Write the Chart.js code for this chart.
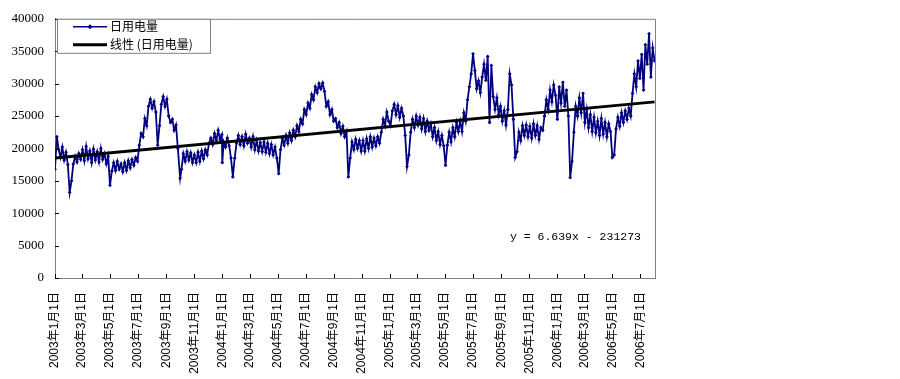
<!DOCTYPE html>
<html><head><meta charset="utf-8">
<script src="https://cdn.jsdelivr.net/npm/chart.js@4.4.1/dist/chart.umd.min.js"></script>
<style>html,body{margin:0;padding:0;background:#fff;}canvas{display:block;}</style>
</head><body>
<canvas id="c" width="900" height="379"></canvas>
<script>
// Series: [day offset from 2003-01-01, daily electricity]
const load2003 = [[0,16800],[4,21800],[8,19800],[12,18600],[16,20200],[20,18200],[24,19400],[28,17500],
[32,13200],[36,15000],[40,17600],[44,18800],[48,17900],[52,19200],[56,18300],
[60,19800],[64,18100],[68,20300],[72,18400],[76,19600],[80,17800],[84,19900],[88,18200],
[92,19500],[96,17900],[100,20000],[104,18300],[108,19200],[112,17600],[116,18800],
[120,14300],[124,16500],[128,17800],[132,16600],[136,18000],[140,16800],[144,17600],[148,16400],
[152,17800],[156,16600],[160,18100],[164,17000],[168,18300],[172,17400],[176,18600],[180,18000],
[184,20500],[188,22300],[192,21800],[196,24600],[200,23500],[204,26500],[208,27600],
[212,26200],[216,27200],[220,25600],[224,20500],[228,23500],[232,26800],[236,28000],[240,26500],
[244,27600],[248,25000],[252,24000],[256,24500],[260,22800],[264,23600],[268,20000],
[273,15400],[276,16800],[280,19200],[284,18000],[288,19500],[292,18200],[296,19300],[300,17800],
[304,19000],[308,17800],[312,19400],[316,18000],[320,19600],[324,18400],[328,19800],[332,19000],
[336,20800],[340,21600],[344,20600],[348,22300],[352,21200],[356,22800],[360,21400],[364,22100]];
const load2004 = [[365,17800],[368,21000],[372,20200],[376,21600],[380,20400],[384,18500],[388,15600],[392,18500],
[396,20800],[400,22000],[404,20600],[408,21800],[412,20400],[416,22200],[420,20800],[424,21600],
[428,20200],[432,21800],[436,19800],[440,21200],[444,19600],[448,20900],[452,19500],
[456,21000],[460,19400],[464,20800],[468,19200],[472,20600],[476,19000],[480,20200],[484,18500],
[488,16100],[492,19800],[496,21500],[500,20500],[504,22000],[508,20800],[512,22400],[516,21200],
[520,22800],[524,21800],[528,23500],[532,22600],[536,24500],[540,23800],[544,26000],
[548,25200],[552,27000],[556,26200],[560,28300],[564,27500],[568,29500],[572,28600],[576,30000],
[580,29200],[584,30100],[588,28800],[592,26500],[596,27200],[600,25200],[604,26000],[608,24200],
[612,24600],[616,23200],[620,24000],[624,22300],[628,23400],[632,21800],[636,22600],
[640,15600],[644,18500],[648,21000],[652,19800],[656,21400],[660,20000],[664,21200],[668,19600],
[672,21200],[676,19600],[680,21500],[684,20000],[688,21800],[692,20200],[696,21600],
[700,20400],[704,21800],[708,20800],[712,22500],[716,24500],[720,23500],[724,25600],[728,24200]];
const load2005 = [[732,23500],[736,25800],[740,26800],[744,25200],[748,26600],[752,24800],[756,26200],[760,25000],
[764,22000],[768,17200],[772,19000],[776,22500],[780,24500],[784,23200],[788,25000],
[792,23600],[796,24800],[800,23000],[804,24600],[808,22600],[812,24200],[816,22800],[820,23800],
[824,21800],[828,23200],[832,21200],[836,22600],[840,20600],[844,22000],[848,20400],
[852,17400],[856,20500],[860,22500],[864,21000],[868,23200],[872,21800],[876,24000],[880,22600],
[884,24200],[888,22600],[892,25500],[896,24200],[900,27500],[904,29500],[908,31500],
[912,34600],[916,32000],[920,29200],[924,30400],[928,28600],[932,31000],[936,33000],[940,30500],
[944,34200],[948,24000],[952,32800],[956,28000],[960,26000],[964,27800],[968,25200],[972,26500],
[976,24200],[980,25800],[984,23600],[988,26000],[992,31500],[996,29800],[1000,24500],
[1004,18600],[1008,19500],[1012,22500],[1016,21200],[1020,23500],[1024,22000],[1028,23600],[1032,21800],
[1036,23400],[1040,21600],[1044,23800],[1048,22000],[1052,23500],[1056,21400],[1060,23200],[1064,22800],
[1068,25000],[1072,27500],[1076,26000],[1080,29000],[1084,27200],[1088,29800],[1092,28200]];
const load2006 = [[1096,24500],[1100,29500],[1104,27000],[1108,30200],[1112,26500],[1116,29000],[1120,25000],[1124,15500],
[1128,18000],[1132,22500],[1136,26500],[1140,25000],[1144,27800],[1148,25500],[1152,28500],
[1156,24000],[1160,26000],[1164,23200],[1168,25200],[1172,22600],[1176,24800],[1180,22400],[1184,24200],
[1188,22000],[1192,24600],[1196,22200],[1200,24000],[1204,21800],[1208,23800],[1212,22600],
[1216,18600],[1220,19000],[1224,23000],[1228,24800],[1232,23400],[1236,25500],[1240,24000],[1244,25800],
[1248,24500],[1252,26200],[1256,25000],[1260,28500],[1264,31500],[1268,29500],[1272,33500],[1276,30800],
[1280,34500],[1284,29000],[1288,36000],[1292,33000],[1296,37700],[1300,31000],[1304,35500],[1308,33500]];

// Linear trend endpoints (y = 6.639x - 231273)
const trendDays = [0, 1308];
const trendValues = [18500, 27180];

const tickLabels = ['2003年1月1日','2003年3月1日','2003年5月1日','2003年7月1日','2003年9月1日','2003年11月1日',
'2004年1月1日','2004年3月1日','2004年5月1日','2004年7月1日','2004年9月1日','2004年11月1日',
'2005年1月1日','2005年3月1日','2005年5月1日','2005年7月1日','2005年9月1日','2005年11月1日',
'2006年1月1日','2006年3月1日','2006年5月1日','2006年7月1日'];
const yTicks = [0,5000,10000,15000,20000,25000,30000,35000,40000];

const seriesName = '日用电量';
const trendName = '线性 (日用电量)';
const equationText = 'y = 6.639x - 231273';

const base = Date.UTC(2003,0,1);
function labelToDay(s){const m=s.match(/(\d+)年(\d+)月(\d+)日/);return Math.round((Date.UTC(+m[1],+m[2]-1,+m[3])-base)/86400000);}
const tickDays = tickLabels.map(labelToDay);
const dayToLabel = {}; tickDays.forEach((d,i)=>dayToLabel[d]=tickLabels[i]);

const series = [].concat(load2003, load2004, load2005, load2006).map(p=>({x:p[0],y:p[1]}));
const trend = trendDays.map((d,i)=>({x:d,y:trendValues[i]}));

const NAVY = '#000080';
const GRAY = '#808080';

const decor = {
  id:'decor',
  afterDatasetsDraw(chart){
    const ctx = chart.ctx, a = chart.chartArea;
    const xs = chart.scales.x, ys = chart.scales.y;
    ctx.save();
    ctx.strokeStyle = GRAY; ctx.lineWidth = 1;
    ctx.beginPath();
    ctx.moveTo(a.left, a.top+0.5); ctx.lineTo(a.right+0.5, a.top+0.5); ctx.lineTo(a.right+0.5, a.bottom);
    ctx.stroke();
    ctx.strokeStyle = '#000';
    ctx.beginPath();
    yTicks.forEach(v=>{const y=Math.round(ys.getPixelForValue(v))+0.5; ctx.moveTo(a.left, y); ctx.lineTo(a.left+4, y);});
    tickDays.forEach(d=>{const x=Math.round(xs.getPixelForValue(d))+0.5; ctx.moveTo(x, a.bottom); ctx.lineTo(x, a.bottom-4);});
    ctx.stroke();
    const lx = a.left+2, ly = a.top, lw = 153, lh = 34;
    ctx.fillStyle = '#fff';
    ctx.fillRect(lx, ly, lw, lh);
    ctx.strokeStyle = GRAY; ctx.lineWidth = 1;
    ctx.strokeRect(lx+0.5, ly+0.5, lw, lh);
    const y1 = ly+8, y2 = ly+26;
    ctx.strokeStyle = NAVY; ctx.lineWidth = 1.5;
    ctx.beginPath(); ctx.moveTo(lx+16, y1); ctx.lineTo(lx+50, y1); ctx.stroke();
    ctx.fillStyle = NAVY;
    ctx.beginPath(); const mx = lx+33; ctx.moveTo(mx, y1-2.5); ctx.lineTo(mx+2.5, y1); ctx.lineTo(mx, y1+2.5); ctx.lineTo(mx-2.5, y1); ctx.closePath(); ctx.fill();
    ctx.strokeStyle = '#000'; ctx.lineWidth = 3;
    ctx.beginPath(); ctx.moveTo(lx+16, y2); ctx.lineTo(lx+50, y2); ctx.stroke();
    ctx.fillStyle = '#000';
    ctx.font = '12px "Noto Sans CJK SC"';
    ctx.textBaseline = 'middle'; ctx.textAlign = 'left';
    ctx.fillText(seriesName, lx+53, y1);
    ctx.fillText(trendName, lx+53, y2);
    ctx.font = '11.5px "Liberation Mono"';
    ctx.textAlign = 'right';
    ctx.fillText(equationText, a.right-14, ys.getPixelForValue(6300));
    ctx.restore();
  }
};

new Chart(document.getElementById('c'), {
  type:'line',
  data:{datasets:[
    {label:trendName, data:trend, borderColor:'#000', borderWidth:3, pointRadius:0, order:0},
    {label:seriesName, data:series, borderColor:NAVY, backgroundColor:NAVY, borderWidth:1.8,
     pointRadius:1.9, pointStyle:'rectRot', pointBackgroundColor:NAVY, pointBorderColor:NAVY, pointBorderWidth:0, order:1}
  ]},
  options:{
    responsive:false, animation:false, devicePixelRatio:1,
    layout:{padding:{top:17, right:245, left:0, bottom:0}},
    plugins:{legend:{display:false}, tooltip:{enabled:false}},
    scales:{
      x:{type:'linear', min:0, max:1309,
        afterBuildTicks(s){s.ticks = tickDays.map(v=>({value:v}));},
        afterFit(s){s.height = 101;},
        grid:{drawOnChartArea:false, drawTicks:false},
        border:{display:true, color:GRAY, width:1},
        ticks:{autoSkip:false, maxRotation:90, minRotation:90, padding:14, color:'#000',
          font:{family:'"Liberation Sans", "Noto Sans CJK SC"', size:12},
          callback:(v)=>dayToLabel[v]||''}
      },
      y:{min:0, max:40000,
        afterBuildTicks(s){s.ticks = yTicks.map(v=>({value:v}));},
        afterFit(s){s.width = 55;},
        grid:{drawOnChartArea:false, drawTicks:false},
        border:{display:true, color:GRAY, width:1},
        ticks:{padding:11, color:'#000', font:{family:'"Liberation Serif"', size:13},
          callback:(v)=>String(v)}
      }
    }
  },
  plugins:[decor]
});
</script>
</body></html>
